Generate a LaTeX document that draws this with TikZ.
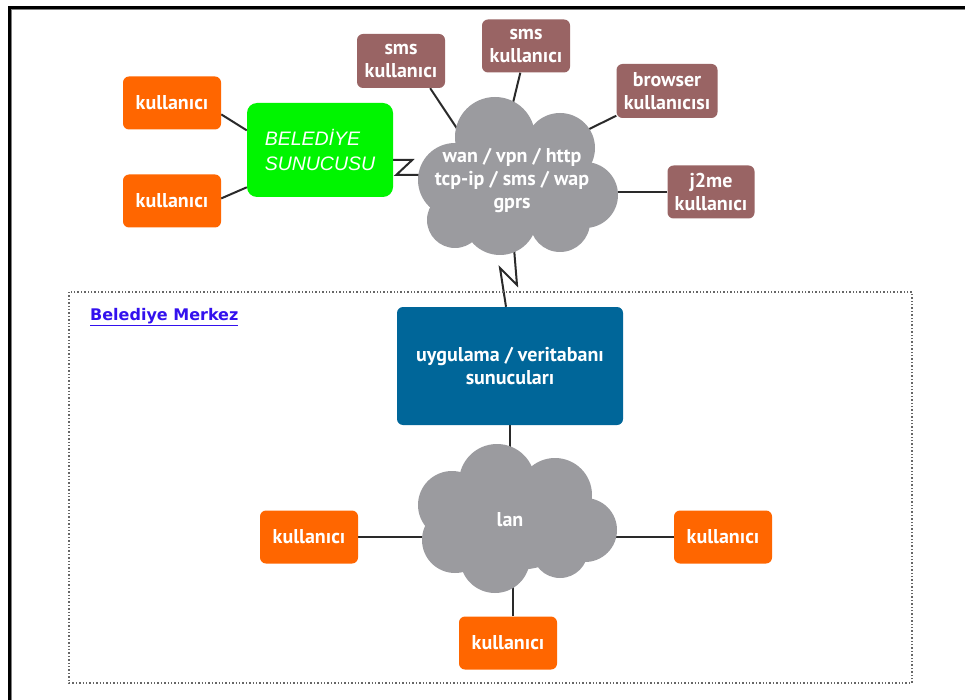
\documentclass[tikz,border=0pt]{standalone}
\usepackage{fontspec}
\setmainfont{PT Sans}
\newfontfamily\digifont{Liberation Sans}
\newfontfamily\linkfont{DejaVu Sans}
\usetikzlibrary{backgrounds,calc}
\definecolor{orng}{HTML}{FF6600}
\definecolor{mauve}{HTML}{996464}
\definecolor{grn}{HTML}{00F500}
\definecolor{blu}{HTML}{006699}
\definecolor{cloudgray}{HTML}{9B9B9F}
\definecolor{linkblue}{HTML}{3311EE}
\definecolor{lineclr}{HTML}{2A2A2A}
\tikzset{
  boxbase/.style={rounded corners=6pt, text=white, align=center, inner sep=0pt,
    font=\bfseries\fontsize{20}{23}\selectfont},
  obox/.style={boxbase, fill=orng, minimum width=98pt, minimum height=53pt},
  mbox/.style={boxbase, fill=mauve},
  gbox/.style={boxbase, fill=grn, rounded corners=10pt, minimum width=146pt, minimum height=94pt,
    align=left, font=\digifont\itshape\fontsize{19.5}{25}\selectfont},
  bbox/.style={boxbase, fill=blu, minimum width=226pt, minimum height=118pt},
  cloudtext/.style={text=white, align=center, inner sep=0pt,
    font=\bfseries\fontsize{20}{23}\selectfont},
  conn/.style={draw=lineclr, line width=2pt},
}
\begin{document}
\begin{tikzpicture}[x=1pt,y=-1pt]
\useasboundingbox (0,0) rectangle (965,700);
% frame
\draw[black, line width=3pt] (9.5,700) -- (9.5,7.5) -- (965,7.5);
\draw[gray, line width=1pt] (11.8,700) -- (11.8,9.8) -- (965,9.8);
% dotted region
\draw[gray!80!black, line width=1.4pt, dotted] (69,292) rectangle (912,683);
\node[anchor=base west, inner sep=0pt, text=linkblue, font=\linkfont\bfseries\fontsize{16}{19}\selectfont] (bm) at (90,320) {\underline{Belediye Merkez}};
% cloud shapes
\begin{scope}[fill=cloudgray]
  \fill (495,137) circle (40);
  \fill (560,148) circle (35);
  \fill (585,195) circle (33);
  \fill (455,180) circle (37);
  \fill (500,218) circle (37);
  \fill (560,222) circle (30);
  \fill (455,220) circle (28);
  \fill (515,180) ellipse [x radius=70, y radius=55];
  \fill (497,482) circle (38);
  \fill (555,495) circle (37);
  \fill (585,530) circle (32);
  \fill (452,505) circle (34);
  \fill (455,540) circle (33);
  \fill (495,558) circle (35);
  \fill (560,550) circle (28);
  \fill (515,520) ellipse [x radius=70, y radius=50];
\end{scope}
% nodes
\node[obox] (k1) at (172,103) {kullanıcı};
\node[obox] (k2) at (172,201) {kullanıcı};
\node[gbox] (bs) at (320,150) {BELEDİYE\\SUNUCUSU};
\node[mbox, minimum width=88pt, minimum height=54pt] (s1) at (401,61) {sms\\kullanıcı};
\node[mbox, minimum width=88pt, minimum height=53pt] (s2) at (526,46) {sms\\kullanıcı};
\node[mbox, minimum width=101pt, minimum height=54pt] (br) at (667,91) {browser\\kullanıcısı};
\node[mbox, minimum width=87pt, minimum height=53pt] (j2) at (711,192) {j2me\\kullanıcı};
\node[cloudtext] (c1) at (512,181) {wan / vpn / http\\tcp-ip / sms / wap\\gprs};
\node[bbox] (uv) at (510,366) {uygulama / veritabanı\\sunucuları};
\node[cloudtext] (c2) at (510,520) {lan};
\node[obox] (l1) at (309,537) {kullanıcı};
\node[obox] (l2) at (723,537) {kullanıcı};
\node[obox] (l3) at (508,643) {kullanıcı};
% connectors
\begin{pgfonlayer}{background}
\fill[white] (0,0) rectangle (965,700);
\draw[conn] (k1.-13) -- (bs.165);
\draw[conn] (k2.3) -- (bs.207);
\draw[conn] ($(bs.east)+(0,10)$) -- ++(19,0) -- ++(-16,15) -- ($(c1)+(-72,-6)$);
\draw[conn] (s1.-43) -- ($(c1)+(-50,-45)$);
\draw[conn] (s2.-102) -- ($(c1)+(-1,-70)$);
\draw[conn] (br.206) -- ($(c1)+(63,-45)$);
\draw[conn] (j2.west) -- ($(c1)+(88,11)$);
\draw[conn] ($(c1)+(1,55)$) -- (517,285) -- (500,268) -- ([xshift=-4pt]uv.north);
\draw[conn] (uv.south) -- (c2);
\draw[conn] (l1.east) -- (l1.east -| c2);
\draw[conn] (l2.west) -- (l2.west -| c2);
\draw[conn] ([xshift=5pt]l3.north) -- ([xshift=5pt]l3.north |- c2);
\end{pgfonlayer}
\end{tikzpicture}
\end{document}
